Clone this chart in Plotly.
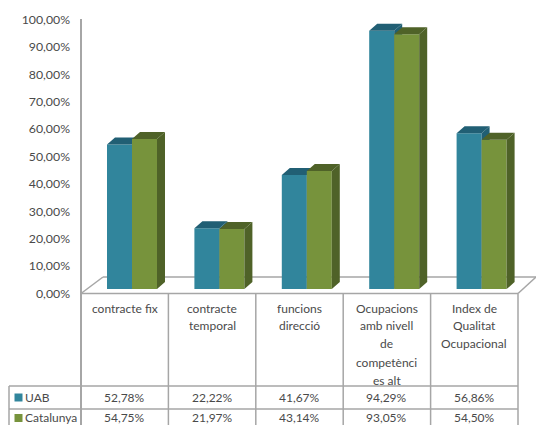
import plotly.graph_objects as go

label_lines = [
    ["contracte fix"],
    ["contracte", "temporal"],
    ["funcions", "direcció"],
    ["Ocupacions", "amb nivell", "de", "competènci", "es alt"],
    ["Index de", "Qualitat", "Ocupacional"],
]
series_names = ["UAB", "Catalunya"]
uab_values = [52.78, 22.22, 41.67, 94.29, 56.86]
cat_values = [54.75, 21.97, 43.14, 93.05, 54.50]
uab_text = ["52,78%", "22,22%", "41,67%", "94,29%", "56,86%"]
cat_text = ["54,75%", "21,97%", "43,14%", "93,05%", "54,50%"]
y_ticks = list(range(0, 101, 10))
y_tick_text = [f"{v},00%" for v in y_ticks]

W, H = 536, 425
X0, CW = 81.0, 87.4      # pixel of category left edge, category width
Y0, UH = 293.5, 2.74     # pixel of value 0, pixels per percentage point

def u(px):
    return (px - X0) / CW - 0.5
def v(py):
    return (Y0 - py) / UH
def px(x):
    return x / W
def py(y):
    return 1 - y / H

BASE = 1.6
BW = 25 / CW
DX = 8 / CW
DY = 7 / UH
OFF = [-17.7 / CW, 7.3 / CW]
GREY = "#a6a6a6"
TXT = "#4a4a4a"
FONT = "Lato"

fig = go.Figure()
idx = list(range(5))

def add_series(vals, name, off, front, top, side, xa, ya):
    fig.add_trace(go.Bar(x=idx, y=vals, base=BASE, offset=off, width=BW, name=name,
                         marker=dict(color=front, line=dict(width=0)),
                         xaxis=xa, yaxis=ya, showlegend=False))
    tx, ty, sx, sy = [], [], [], []
    for i, val in enumerate(vals):
        l = i + off
        r = l + BW
        t = BASE + val
        tx += [l, l + DX, r + DX, r, l, None]
        ty += [t, t + DY, t + DY, t, t, None]
        sx += [r, r + DX, r + DX, r, r, None]
        sy += [t, t + DY, BASE + DY, BASE, t, None]
    for xs, ys, c in ((sx, sy, side), (tx, ty, top)):
        fig.add_trace(go.Scatter(x=xs, y=ys, mode="lines", fill="toself", fillcolor=c,
                                 line=dict(width=0), hoverinfo="skip", showlegend=False,
                                 xaxis=xa, yaxis=ya))

add_series(uab_values, series_names[0], OFF[0], "#31859c", "#215f74", "#215f74", "x", "y")
add_series(cat_values, series_names[1], OFF[1], "#77933c", "#4f6228", "#4f6228", "x2", "y2")

ROW_UAB, ROW_CAT = 397.5, 417.0

# legend keys inside the data table
for name, c, row_y in ((series_names[0], "#31859c", ROW_UAB), (series_names[1], "#77933c", ROW_CAT + 1)):
    fig.add_trace(go.Scatter(x=[u(18.5)], y=[v(row_y)], mode="markers",
                             marker=dict(symbol="square", size=8, color=c),
                             showlegend=False, hoverinfo="skip", xaxis="x2", yaxis="y2"))

shapes = []
def seg(x1, y1, x2, y2, w=1.5, color=GREY, layer="below"):
    shapes.append(dict(type="line", xref="paper", yref="paper", x0=px(x1), y0=py(y1),
                       x1=px(x2), y1=py(y2), line=dict(color=color, width=w), layer=layer))

seg(81, 19, 81, 425, 2)
seg(81, 293.5, 103, 277)
seg(103, 277, 536, 277)
seg(518, 293.5, 536, 277)
seg(81, 293.5, 518, 293.5)
for i in range(1, 6):
    seg(X0 + i * CW, 293.5, X0 + i * CW, 425)
seg(9, 386, 518, 386)
seg(9, 409, 518, 409)
seg(9, 386, 9, 425)

ann = []
def text(x, y, s, anchor="center"):
    ann.append(dict(xref="paper", yref="paper", x=px(x), y=py(y), text=s, showarrow=False,
                    xanchor=anchor, yanchor="middle", font=dict(family=FONT, size=12, color=TXT),
                    borderpad=0, borderwidth=0))

LINE_Y = [308, 325.7, 343.5, 362, 380]
for i, lines in enumerate(label_lines):
    for j, s in enumerate(lines):
        text(X0 + (i + 0.5) * CW, LINE_Y[j], s)
for i in idx:
    text(X0 + (i + 0.5) * CW, ROW_UAB, uab_text[i])
    text(X0 + (i + 0.5) * CW, ROW_CAT, cat_text[i])
text(25, ROW_UAB, series_names[0], "left")
text(25, ROW_CAT, series_names[1], "left")

xr = [u(0), u(W)]
yr = [v(H), v(0)]
fig.update_layout(
    width=W, height=H, margin=dict(l=0, r=0, t=0, b=0),
    paper_bgcolor="white", plot_bgcolor="white", barmode="overlay",
    shapes=shapes, annotations=ann, showlegend=False,
    xaxis=dict(domain=[0, 1], range=xr, visible=False, fixedrange=True),
    yaxis=dict(domain=[0, 1], range=yr, anchor="free", position=X0 / W, side="left",
               tickmode="array", tickvals=y_ticks, ticktext=y_tick_text,
               showgrid=False, zeroline=False, showline=False, ticks="",
               ticklabelstandoff=11, tickfont=dict(family=FONT, size=12.3, color=TXT),
               fixedrange=True),
    xaxis2=dict(domain=[0, 1], range=xr, overlaying="x", visible=False, fixedrange=True),
    yaxis2=dict(domain=[0, 1], range=yr, overlaying="y", visible=False, fixedrange=True),
)
fig.write_html("out.html", config=dict(displayModeBar=False),
               post_script="document.body.style.margin='0';document.body.style.overflow='hidden';")
